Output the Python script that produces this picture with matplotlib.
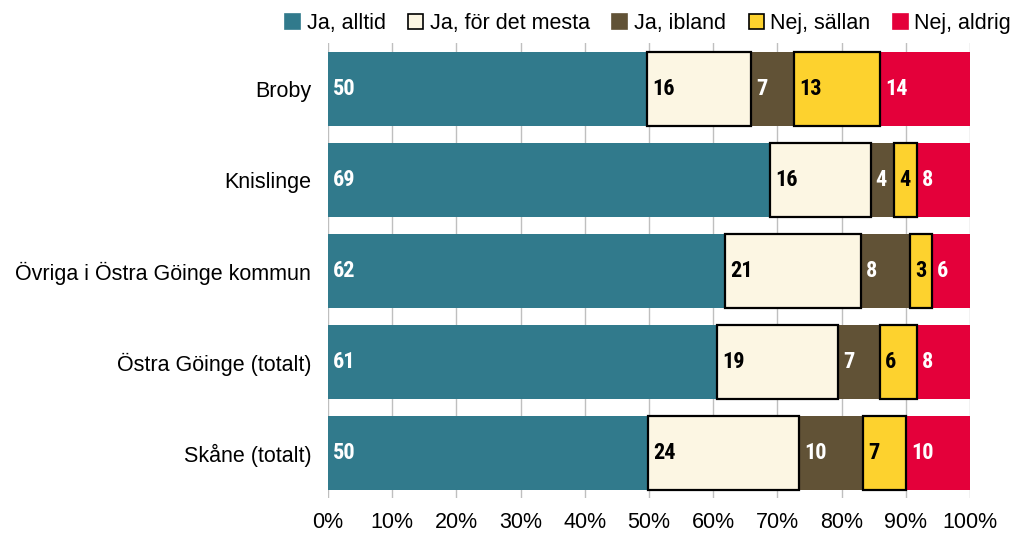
import matplotlib
matplotlib.use('Agg')
import matplotlib.pyplot as plt
from matplotlib.patches import Patch
import numpy as np

plt.rcParams['font.family'] = ['Liberation Sans', 'DejaVu Sans']

categories = ['Broby', 'Knislinge', 'Övriga i Östra Göinge kommun',
              'Östra Göinge (totalt)', 'Skåne (totalt)']
series_names = ['Ja, alltid', 'Ja, för det mesta', 'Ja, ibland', 'Nej, sällan', 'Nej, aldrig']

ja_alltid = [49.7, 68.8, 61.8, 60.6, 49.8]
ja_mesta = [16.2, 15.7, 21.2, 18.8, 23.6]
ja_ibland = [6.7, 3.7, 7.6, 6.6, 10.0]
nej_sallan = [13.4, 3.5, 3.4, 5.7, 6.7]
nej_aldrig = [14.0, 8.3, 6.0, 8.3, 9.9]

colors = ['#317A8C', '#FCF6E3', '#615236', '#FDD22E', '#E4003A']
edges = [None, 'black', None, 'black', None]
text_colors = ['white', 'black', 'white', 'black', 'white']

series = [ja_alltid, ja_mesta, ja_ibland, nej_sallan, nej_aldrig]

fig = plt.figure(figsize=(10.24, 5.36), dpi=100)
ax = fig.add_axes([0.3203, 0.070, 0.6270, 0.849])

y = np.arange(len(categories))
left = np.zeros(len(categories))
for vals, col, ec, tc in zip(series, colors, edges, text_colors):
    vals = np.array(vals)
    if ec:
        ax.barh(y, vals, left=left, height=0.81, color=col, edgecolor=ec, linewidth=1.6, zorder=3)
    else:
        ax.barh(y, vals, left=left, height=0.81, color=col, linewidth=0, zorder=2)
    for yi, l, v in zip(y, left, vals):
        ax.text(l + 0.8, yi, f'{v:.0f}', va='center', ha='left', color=tc,
                fontsize=16, fontweight='bold', zorder=4,
                family=['Roboto Condensed', 'Liberation Sans'])
    left = left + vals

ax.set_xlim(0, 100)
ax.set_ylim(len(categories) - 0.5, -0.5)
ax.set_yticks(y)
ax.set_yticklabels(categories, fontsize=15.5)
ax.set_xticks(np.arange(0, 101, 10))
ax.set_xticklabels([f'{t}%' for t in range(0, 101, 10)], fontsize=15.5)
ax.tick_params(axis='y', length=0, pad=12)
ax.tick_params(axis='x', length=0, pad=10)
ax.grid(axis='x', color='#BFBFBF', linewidth=1, zorder=0)
for s in ax.spines.values():
    s.set_visible(False)

handles = [Patch(facecolor=c, edgecolor=(e if e else c), linewidth=1.2) for c, e in zip(colors, edges)]
fig.legend(handles, series_names, loc='upper right', bbox_to_anchor=(1.0, 1.0), ncol=5,
           frameon=False, fontsize=15.5, handlelength=0.7, handleheight=0.7,
           handletextpad=0.3, columnspacing=1.05, borderaxespad=0.2)

fig.savefig('out.png', dpi=100)
